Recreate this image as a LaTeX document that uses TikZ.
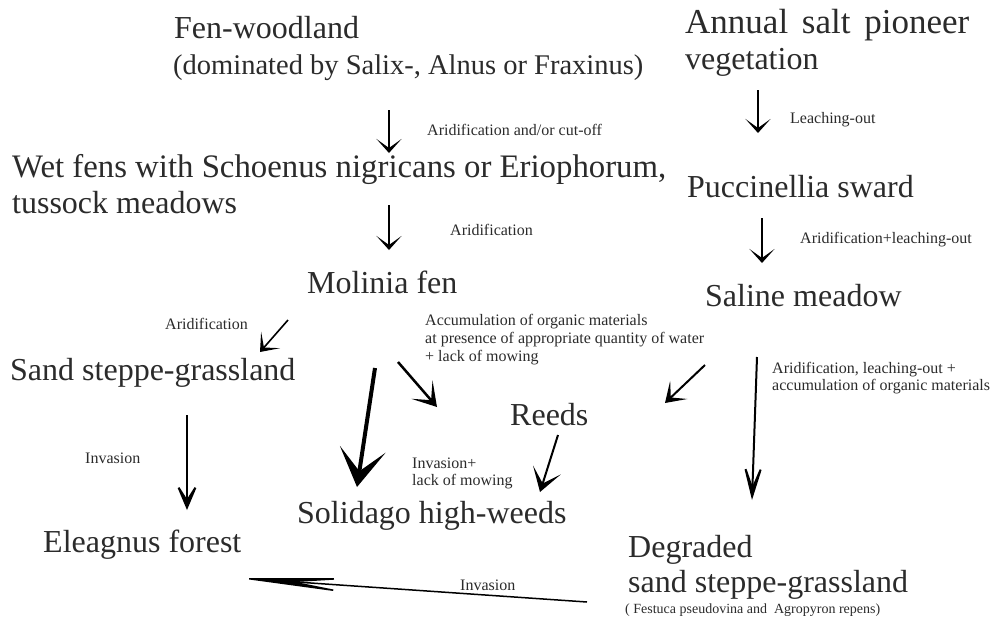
\documentclass[tikz,border=0pt]{standalone}
\usepackage{fontspec}
\setmainfont{Liberation Serif}
\usetikzlibrary{arrows.meta}
\definecolor{txt}{HTML}{2B2B2B}
\begin{document}
\begin{tikzpicture}[x=1pt,y=-1pt,
  big/.style={anchor=base west,inner sep=0pt,text=txt,font=\fontsize{32}{37}\selectfont},
  mid/.style={anchor=base west,inner sep=0pt,text=txt,font=\fontsize{28.5}{34}\selectfont},
  sml/.style={anchor=base west,inner sep=0pt,text=txt,font=\fontsize{16}{18}\selectfont},
  tiny/.style={anchor=base west,inner sep=0pt,text=txt,font=\fontsize{14}{16}\selectfont},
  arr/.style={line width=1.6pt,-{Stealth[length=14pt,width=25pt,inset=9pt]}},
]
\useasboundingbox[fill=white] (0,0) rectangle (997,622);
% main texts
\node[big] (fen1) at (174,38) {Fen-woodland};
\node[mid] (fen2) at (173,74) {(dominated by Salix-, Alnus or Fraxinus)};
\node[big,font=\fontsize{35}{37}\selectfont] (ann1) at (685,33) {Annual\hspace{5pt} salt\hspace{5pt} pioneer};
\node[big] (ann2) at (685,69) {vegetation};
\node[big,font=\fontsize{32.8}{37}\selectfont] (wet1) at (12,177) {Wet fens with Schoenus nigricans or Eriophorum,};
\node[big] (wet2) at (12,213) {tussock meadows};
\node[big] (puc) at (687,197) {Puccinellia sward};
\node[big] (mol) at (307,293) {Molinia fen};
\node[big] (sal) at (705,306) {Saline meadow};
\node[big] (sand) at (10,380) {Sand steppe-grassland};
\node[big] (reeds) at (510,425) {Reeds};
\node[big] (sol) at (297,523) {Solidago high-weeds};
\node[big] (ele) at (43,552) {Eleagnus forest};
\node[big] (deg1) at (628,557) {Degraded};
\node[big] (deg2) at (628,592) {sand steppe-grassland};
\node[tiny] (deg3) at (625,613) {( Festuca pseudovina and\ \ Agropyron repens)};
% small labels
\node[sml] (l1) at (427,135) {Aridification and/or cut-off};
\node[sml] (l2) at (790,123) {Leaching-out};
\node[sml] (l3) at (450,235) {Aridification};
\node[sml] (l4) at (800,243) {Aridification+leaching-out};
\node[sml] (l5) at (165,329) {Aridification};
\node[sml] (l6a) at (425,325) {Accumulation of organic materials};
\node[sml] (l6b) at (425,343) {at presence of appropriate quantity of water};
\node[sml] (l6c) at (425,361) {+ lack of mowing};
\node[sml] (l7a) at (772,373) {Aridification, leaching-out +};
\node[sml] (l7b) at (772,390) {accumulation of organic materials};
\node[sml] (l8a) at (412,468) {Invasion+};
\node[sml] (l8b) at (412,485) {lack of mowing};
\node[sml] (l9) at (85,463) {Invasion};
\node[sml] (l10) at (460,590) {Invasion};
% arrow end points
\coordinate (a1s) at (389,110); \coordinate (a1e) at (389,153);
\coordinate (a2s) at (389,205); \coordinate (a2e) at (389,250);
\coordinate (a3s) at (758,90);  \coordinate (a3e) at (758,133);
\coordinate (a4s) at (762,218); \coordinate (a4e) at (762,263);
\coordinate (a5s) at (288,320); \coordinate (a5e) at (260,352);
\coordinate (a6s) at (187,415); \coordinate (a6e) at (187,510);
\coordinate (a7s) at (375,368); \coordinate (a7e) at (357,487);
\coordinate (a8s) at (398,362); \coordinate (a8e) at (437,407);
\coordinate (a9s) at (705,365); \coordinate (a9e) at (665,403);
\coordinate (a10s) at (757,357); \coordinate (a10e) at (752,500);
\coordinate (a11s) at (558,435); \coordinate (a11e) at (540,492);
\coordinate (a12s) at (587,602); \coordinate (a12e) at (238,578);
% arrows
\draw[arr] (a1s) -- (a1e);
\draw[arr] (a2s) -- (a2e);
\draw[arr] (a3s) -- (a3e);
\draw[arr] (a4s) -- (a4e);
\draw[arr,-{Stealth[length=16pt,width=25pt,inset=10pt]}] (a5s) -- (a5e);
\draw[line width=2pt,-{Stealth[length=33pt,width=28pt,inset=22pt]}] (a6s) -- (a6e);
\draw[line width=4pt,-{Stealth[length=38pt,width=46pt,inset=22pt]}] (a7s) -- (a7e);
\draw[line width=2.5pt,-{Stealth[length=23pt,width=28pt,inset=14pt]}] (a8s) -- (a8e);
\draw[line width=2pt,-{Stealth[length=19pt,width=25pt,inset=11pt]}] (a9s) -- (a9e);
\draw[line width=2pt,-{Stealth[length=50pt,width=28pt,inset=36pt]}] (a10s) -- (a10e);
\draw[line width=2pt,-{Stealth[length=23pt,width=29pt,inset=14pt]}] (a11s) -- (a11e);
\draw[line width=1.5pt,-{Stealth[length=120pt,width=16pt,inset=62pt]}] (a12s) -- (a12e);
\end{tikzpicture}
\end{document}
